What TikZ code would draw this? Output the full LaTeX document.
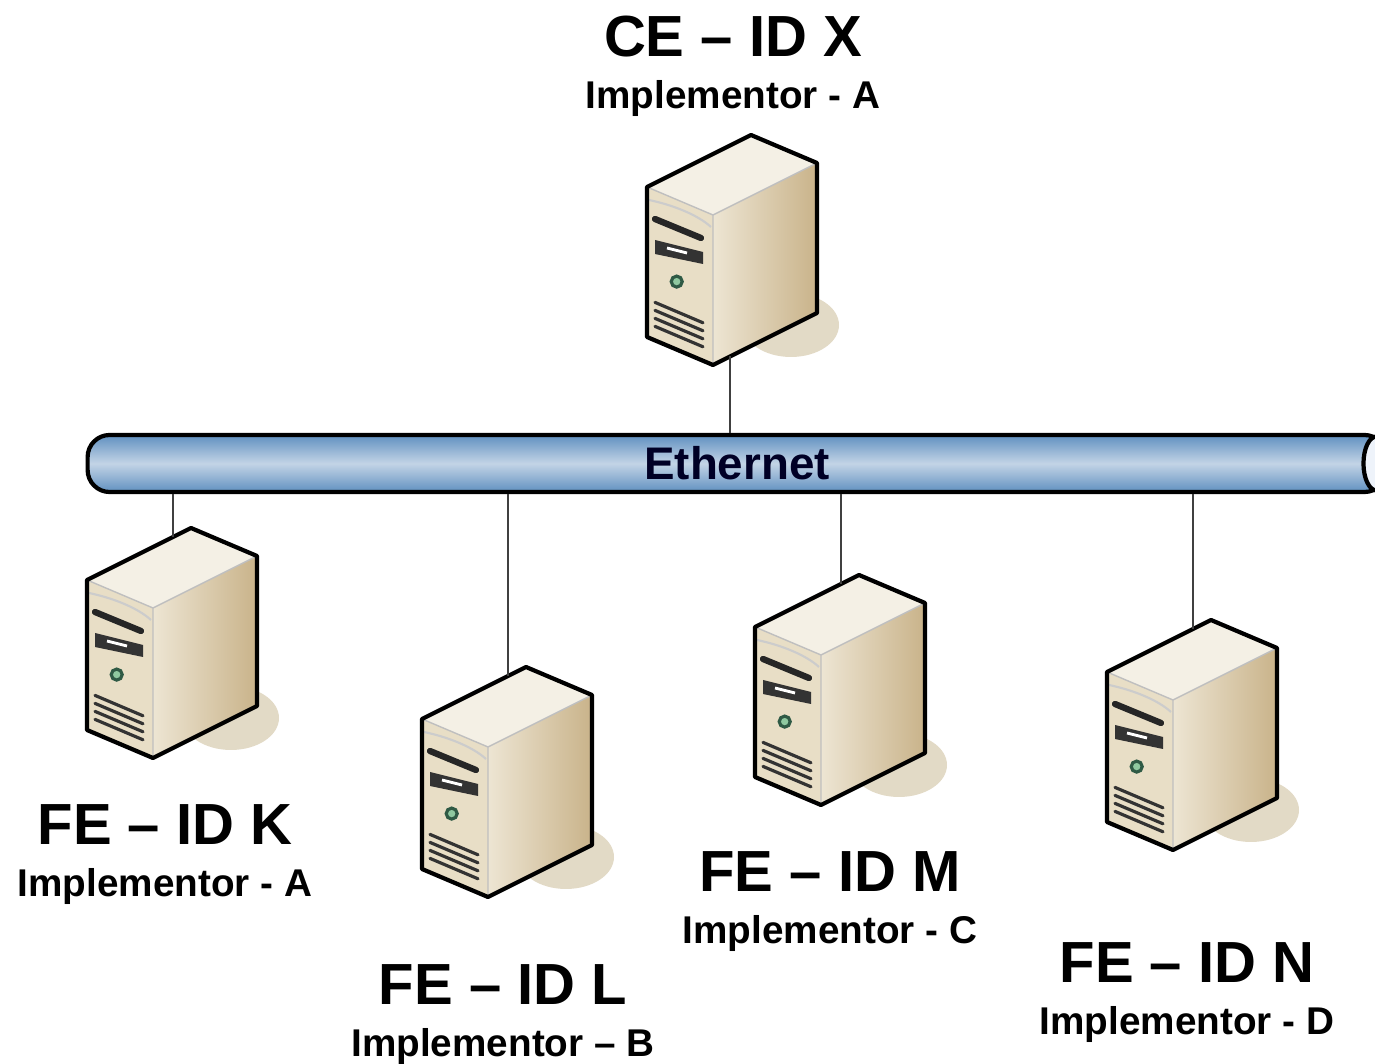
\documentclass[tikz,border=0pt]{standalone}
\usepackage{fontspec}
\setmainfont{Liberation Sans}
\usetikzlibrary{positioning}
\definecolor{casefront}{HTML}{E8DEC6}
\definecolor{caseside}{HTML}{C9B38A}
\definecolor{casesidelt}{HTML}{EDE5D3}
\definecolor{casetop}{HTML}{F4F0E5}
\definecolor{caseshadow}{HTML}{E2DAC6}
\definecolor{busdark}{HTML}{6090C0}
\definecolor{buslight}{HTML}{C3D4E6}
\definecolor{busend}{HTML}{EEF3FA}
\definecolor{ledgreen}{HTML}{8FC9A0}
\definecolor{leddark}{HTML}{2F5A45}
\tikzstyle{idlabel} = [font=\bfseries\fontsize{16.5pt}{18pt}\selectfont]
\tikzstyle{implabel} = [font=\bfseries\fontsize{11pt}{13pt}\selectfont]
\tikzstyle{bus} = [draw, line width=1.2pt, rounded corners=0.22cm, top color=busdark,
    bottom color=busdark, middle color=buslight, minimum width=12.98cm, minimum height=0.57cm,
    font=\bfseries\fontsize{13pt}{15pt}\selectfont, text=black!85!blue]
\tikzstyle{wire} = [draw, gray!50!black, line width=0.6pt]
\tikzstyle{vent} = [line width=0.9pt, black!80, line cap=round]

% tower server, #1 = name, #2 = bottom front corner
\newcommand{\server}[2]{%
  \begin{scope}[shift={#2}]
    \fill[caseshadow] (78,40) ellipse (48 and 32);
    \fill[casefront] (0,0) -- (-66,28) -- (-66,178) -- (0,150) -- cycle;
    \shade[left color=casesidelt, right color=caseside] (0,0) -- (104,52) -- (104,202) -- (0,150) -- cycle;
    \fill[casetop] (-66,178) -- (38,230) -- (104,202) -- (0,150) -- cycle;
    \draw[black!25, line width=0.4pt] (-66,178) -- (0,150) -- (104,202) (0,150) -- (0,0);
    \draw[black!20, line width=0.6pt] (-64,165) .. controls (-40,160) and (-15,150) .. (-2,138);
    \draw[line width=1.8pt, black!85, line cap=round] (-58,146) -- (-12,127);
    \fill[black!80] (-58,125) -- (-10,113) -- (-10,101) -- (-58,111) -- cycle;
    \draw[white, line width=0.8pt] (-46,117) -- (-26,112);
    \draw[leddark, fill=ledgreen, line width=0.9pt] (-36.3,83.4) circle (5.5);
    \foreach \v in {14,22,30,38}
      \draw[vent] (-58,{24.6+\v}) -- (-10,{4.2+\v});
    \draw[line width=1.2pt, line join=round] (0,0) -- (-66,28) -- (-66,178) -- (38,230) -- (104,202) -- (104,52) -- cycle;
    \coordinate (#1-top) at (20,221);
    \coordinate (#1-bot) at (17,8.5);
  \end{scope}}

\begin{document}
\begin{tikzpicture}[x=0.01cm, y=0.01cm, node distance=0.61cm]
  \useasboundingbox (0,0) rectangle (1375,1063);
  \clip (0,0) rectangle (1375,1063);

  \node [bus] (eth) at (737,599.5) {Ethernet};
  \draw [line width=1.2pt, fill=busend] ([xshift=-0.12cm]eth.east) ellipse (13 and 27);

  \server{ce}{(713,698)}
  \server{k}{(153,305)}
  \server{l}{(488,166)}
  \server{m}{(821,258)}
  \server{n}{(1173,213)}

  \path [wire] (ce-bot) -- (ce-bot |- eth.north);
  \path [wire] (k-top) -- (k-top |- eth.south);
  \path [wire] (l-top) -- (l-top |- eth.south);
  \path [wire] (m-top) -- (m-top |- eth.south);
  \path [wire] (n-top) -- (n-top |- eth.south);

  \node [idlabel] (cetitle) at (733,1026) {CE – ID X};
  \node [implabel, below of=cetitle] (ceimpl) {Implementor - A};
  \node [idlabel] (ktitle) at (165,238) {FE – ID K};
  \node [implabel, below of=ktitle] (kimpl) {Implementor - A};
  \node [idlabel] (ltitle) at (503,78) {FE – ID L};
  \node [implabel, below of=ltitle] (limpl) {Implementor – B};
  \node [idlabel] (mtitle) at (830,191) {FE – ID M};
  \node [implabel, below of=mtitle] (mimpl) {Implementor - C};
  \node [idlabel] (ntitle) at (1187,100) {FE – ID N};
  \node [implabel, below of=ntitle] (nimpl) {Implementor - D};
\end{tikzpicture}
\end{document}
